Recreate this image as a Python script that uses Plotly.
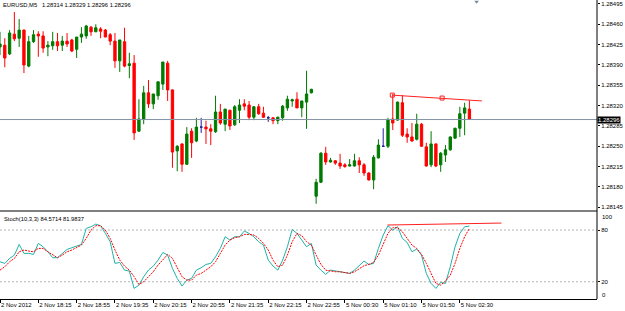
import plotly.graph_objects as go

# ---------------- data (EURUSD M5) ----------------
opens = [1.28421,1.28424,1.28409,1.28443,1.28436,1.28450,1.28388,1.28430,1.28443,1.28440,
         1.28421,1.28423,1.28430,1.28424,1.28431,1.28433,1.28417,1.28438,1.28440,1.28455,
         1.28447,1.28452,1.28450,1.28442,1.28431,1.28397,1.28430,1.28389,1.28393,1.28276,
         1.28297,1.28342,1.28323,1.28337,1.28357,1.28393,1.28347,1.28242,1.28254,1.28219,
         1.28276,1.28259,1.28283,1.28283,1.28280,1.28275,1.28309,1.28288,1.28312,1.28287,
         1.28312,1.28323,1.28321,1.28300,1.28318,1.28307,1.28299,1.28299,1.28294,1.28299,
         1.28316,1.28328,1.28331,1.28316,1.28326,1.28342,1.28164,1.28188,1.28238,1.28223,
         1.28225,1.28221,1.28218,1.28216,1.28216,1.28225,1.28218,1.28204,1.28192,1.28230,
         1.28250,1.28250,1.28297,1.28295,1.28325,1.28271,1.28266,1.28262,1.28288,1.28249,
         1.28218,1.28254,1.28218,1.28235,1.28244,1.28264,1.28281,1.28307,1.28314]
highs = [1.28447,1.28436,1.28450,1.28481,1.28469,1.28451,1.28440,1.28450,1.28448,1.28448,
         1.28431,1.28447,1.28445,1.28440,1.28445,1.28435,1.28438,1.28455,1.28459,1.28457,
         1.28460,1.28455,1.28452,1.28445,1.28445,1.28433,1.28454,1.28411,1.28407,1.28331,
         1.28354,1.28364,1.28340,1.28361,1.28395,1.28397,1.28348,1.28252,1.28255,1.28283,
         1.28281,1.28299,1.28299,1.28294,1.28288,1.28337,1.28323,1.28314,1.28313,1.28321,
         1.28331,1.28331,1.28328,1.28319,1.28323,1.28318,1.28302,1.28300,1.28301,1.28321,
         1.28337,1.28332,1.28343,1.28328,1.28380,1.28349,1.28194,1.28240,1.28249,1.28230,
         1.28226,1.28237,1.28221,1.28228,1.28237,1.28231,1.28221,1.28205,1.28235,1.28262,
         1.28281,1.28299,1.28340,1.28327,1.28338,1.28281,1.28290,1.28306,1.28290,1.28256,
         1.28276,1.28255,1.28240,1.28252,1.28267,1.28282,1.28318,1.28325,1.28329]
lows = [1.28407,1.28386,1.28407,1.28431,1.28421,1.28376,1.28386,1.28428,1.28404,1.28411,
        1.28405,1.28416,1.28414,1.28414,1.28421,1.28412,1.28402,1.28428,1.28435,1.28440,
        1.28447,1.28436,1.28438,1.28424,1.28385,1.28378,1.28386,1.28367,1.28261,1.28275,
        1.28288,1.28316,1.28314,1.28330,1.28347,1.28328,1.28213,1.28207,1.28206,1.28218,
        1.28230,1.28257,1.28273,1.28254,1.28252,1.28273,1.28287,1.28276,1.28278,1.28285,
        1.28290,1.28312,1.28295,1.28295,1.28304,1.28299,1.28292,1.28288,1.28288,1.28294,
        1.28311,1.28318,1.28316,1.28300,1.28280,1.28341,1.28151,1.28187,1.28218,1.28222,
        1.28218,1.28211,1.28213,1.28215,1.28215,1.28204,1.28199,1.28191,1.28176,1.28229,
        1.28249,1.28247,1.28278,1.28294,1.28266,1.28256,1.28258,1.28260,1.28249,1.28215,
        1.28214,1.28214,1.28206,1.28223,1.28242,1.28263,1.28266,1.28269,1.28296]
closes = [1.28426,1.28402,1.28445,1.28435,1.28450,1.28390,1.28430,1.28442,1.28440,1.28419,
          1.28424,1.28430,1.28423,1.28431,1.28426,1.28414,1.28438,1.28443,1.28457,1.28447,
          1.28454,1.28448,1.28438,1.28431,1.28397,1.28433,1.28388,1.28392,1.28273,1.28297,
          1.28342,1.28323,1.28340,1.28361,1.28395,1.28347,1.28240,1.28250,1.28219,1.28271,
          1.28256,1.28283,1.28283,1.28280,1.28276,1.28309,1.28290,1.28314,1.28285,1.28318,
          1.28321,1.28319,1.28300,1.28318,1.28306,1.28300,1.28299,1.28294,1.28300,1.28319,
          1.28331,1.28330,1.28316,1.28328,1.28340,1.28348,1.28188,1.28238,1.28223,1.28226,
          1.28221,1.28216,1.28215,1.28218,1.28225,1.28218,1.28204,1.28192,1.28231,1.28252,
          1.28250,1.28295,1.28290,1.28326,1.28269,1.28266,1.28259,1.28288,1.28250,1.28216,
          1.28254,1.28216,1.28238,1.28244,1.28266,1.28281,1.28306,1.28316,1.28296]

stoch_main = [43.2,41.3,47.1,50.9,63.3,52.9,52.9,51.7,64.5,60.6,
              54.8,47.9,47.9,52.9,57.5,59.5,61.8,63.3,81.9,83.8,
              86.9,85.0,76.1,66.4,41.3,42.4,33.5,32.4,12.3,16.1,
              25.8,33.5,38.2,45.1,54.0,50.9,35.5,23.9,15.0,21.9,
              23.9,33.5,36.3,40.1,41.3,49.0,58.7,72.2,68.4,72.2,
              72.2,78.8,76.1,72.2,66.4,62.6,45.1,38.2,33.5,45.1,
              60.6,80.7,76.1,68.4,60.6,64.5,39.3,33.5,28.5,33.5,
              32.4,31.6,30.5,29.7,33.5,39.3,44.0,40.1,41.3,58.7,
              74.2,85.0,79.9,83.8,70.3,65.6,54.8,57.9,50.9,29.7,
              18.1,12.3,19.2,18.1,37.4,60.6,76.1,83.8,84.57]
stoch_signal = [33.5,37.4,43.2,47.1,54.8,56.8,55.6,54.8,58.7,58.7,
                54.8,50.9,47.9,50.9,54.8,56.8,59.5,62.6,70.3,79.9,
                85.0,85.0,79.9,70.3,56.8,45.1,38.2,33.5,25.8,16.9,
                20.0,25.8,31.6,39.3,45.1,51.7,47.1,35.5,25.8,21.9,
                21.9,27.7,29.7,33.5,37.4,43.2,52.9,62.6,68.4,71.1,
                72.2,74.9,74.9,74.2,70.3,64.5,56.8,45.1,37.4,39.3,
                50.9,66.4,76.1,73.4,66.4,62.6,50.9,40.1,33.5,32.4,
                31.6,31.6,30.5,29.7,31.6,34.7,38.6,40.1,42.4,50.9,
                64.5,76.1,82.7,82.7,78.0,70.3,62.6,58.7,51.7,41.3,
                29.7,18.1,16.1,20.8,27.7,41.3,58.7,72.2,81.98]

time_tick_bars = [0, 8, 16, 24, 32, 40, 48, 56, 64, 72, 80, 88, 96]
time_tick_labels = ["2 Nov 2012", "2 Nov 18:15", "2 Nov 18:55", "2 Nov 19:35", "2 Nov 20:15",
                    "2 Nov 20:55", "2 Nov 21:35", "2 Nov 22:15", "2 Nov 22:55", "5 Nov 00:30",
                    "5 Nov 01:10", "5 Nov 01:50", "5 Nov 02:30"]
price_ticks = [1.28495, 1.28460, 1.28425, 1.28390, 1.28355, 1.28320,
               1.28285, 1.28250, 1.28215, 1.28180, 1.28145]
price_tick_labels = ["1.28495", "1.28460", "1.28425", "1.28390", "1.28355", "1.28320",
                     "1.28285", "1.28250", "1.28215", "1.28180", "1.28145"]
stoch_ticks = [80, 20]
stoch_levels = [80, 20]
bid_price = 1.28296
bid_label = "1.28296"

trend_price_x = [81.9, 100.6]
trend_price_y = [1.28338, 1.28328]
trend_handle_x = [81.9, 92.3]
trend_handle_y = [1.28338, 1.28333]
trend_stoch_x = [80.9, 104.7]
trend_stoch_y = [85.8, 88.1]
shift_bar = 99.5
shift_price = 1.28499

title_text = "EURUSD,M5\u00a0\u00a0 1.28314 1.28329 1.28296 1.28296"
stoch_text = "Stoch(10,3,3) 84.5714 81.9837"

# ---------------- figure ----------------
bars = list(range(len(opens)))
BULL, BEAR, DOJI = "#007a00", "#ff0000", "#20209a"

def candles(idx, color):
    return go.Candlestick(
        x=[bars[i] for i in idx], open=[opens[i] for i in idx], high=[highs[i] for i in idx],
        low=[lows[i] for i in idx], close=[closes[i] for i in idx],
        increasing=dict(line=dict(color=color, width=1), fillcolor=color),
        decreasing=dict(line=dict(color=color, width=1), fillcolor=color),
        whiskerwidth=0, xaxis="x2", yaxis="y", hoverinfo="skip", showlegend=False)

bull = [i for i in bars if closes[i] > opens[i]]
bear = [i for i in bars if closes[i] < opens[i]]
doji = [i for i in bars if closes[i] == opens[i]]

fig = go.Figure()
fig.add_trace(candles(bull, BULL))
fig.add_trace(candles(bear, BEAR))
fig.add_trace(candles(doji, DOJI))

fig.add_trace(go.Scatter(x=trend_price_x, y=trend_price_y, mode="lines",
                         line=dict(color="#ff2020", width=1), xaxis="x2", yaxis="y",
                         hoverinfo="skip", showlegend=False))
fig.add_trace(go.Scatter(x=trend_handle_x, y=trend_handle_y, mode="markers",
                         marker=dict(symbol="square-open", size=4, color="#ff2020",
                                     line=dict(width=1)),
                         xaxis="x2", yaxis="y", hoverinfo="skip", showlegend=False))
fig.add_trace(go.Scatter(x=[shift_bar], y=[shift_price], mode="markers",
                         marker=dict(symbol="triangle-down", size=4, color="#7a8aa0"),
                         cliponaxis=False, xaxis="x2", yaxis="y", hoverinfo="skip",
                         showlegend=False))

fig.add_trace(go.Scatter(x=bars, y=stoch_main, mode="lines",
                         line=dict(color="#20b2aa", width=1), xaxis="x", yaxis="y2",
                         hoverinfo="skip", showlegend=False))
fig.add_trace(go.Scatter(x=bars, y=stoch_signal, mode="lines",
                         line=dict(color="#ff0000", width=1, dash="2px,1px"), xaxis="x", yaxis="y2",
                         hoverinfo="skip", showlegend=False))
fig.add_trace(go.Scatter(x=trend_stoch_x, y=trend_stoch_y, mode="lines",
                         line=dict(color="#ff2020", width=1), xaxis="x", yaxis="y2",
                         hoverinfo="skip", showlegend=False))

PLOT_H = 299.0
def py(px):
    return (PLOT_H - px) / PLOT_H

xr = [0, 597 / 4.79]
FONT = "Liberation Sans, Arial, sans-serif"

fig.update_layout(
    width=625, height=311,
    margin=dict(l=0, r=28, t=0, b=12, pad=0, autoexpand=False),
    paper_bgcolor="white", plot_bgcolor="white",
    font=dict(family=FONT, size=6, color="black"),
    showlegend=False,
    xaxis=dict(domain=[0, 1], anchor="y2", range=xr, tickmode="array",
               tickvals=time_tick_bars, ticktext=time_tick_labels, tickangle=0,
               ticks="outside", ticklen=3, tickcolor="black", tickwidth=1,
               ticklabelposition="outside right", tickfont=dict(size=6),
               showline=True, linecolor="black", linewidth=1, automargin=False,
               showgrid=False, zeroline=False, rangeslider=dict(visible=False)),
    xaxis2=dict(domain=[0, 1], anchor="y", matches="x", showticklabels=False,
                ticks="", showgrid=False, zeroline=False, showline=False, automargin=False,
                rangeslider=dict(visible=False)),
    yaxis=dict(domain=[py(210.5), 1], anchor="x2", side="right",
               range=[1.281394, 1.285018], tickmode="array",
               tickvals=price_ticks, ticktext=price_tick_labels,
               ticks="outside", ticklen=2, tickcolor="black", automargin=False,
               tickfont=dict(size=6), showgrid=False, zeroline=False,
               showline=False),
    yaxis2=dict(domain=[0, py(211.5)], anchor="x", side="right",
                range=[0, 101.5], tickmode="array", tickvals=stoch_ticks,
                ticktext=[str(v) for v in stoch_ticks], automargin=False,
                ticks="outside", ticklen=2, tickcolor="black",
                tickfont=dict(size=6), showgrid=False, zeroline=False,
                showline=False),
)

shapes = [
    dict(type="line", xref="paper", yref="y", x0=0, x1=1, y0=bid_price, y1=bid_price,
         line=dict(color="#8393a6", width=1)),
    dict(type="line", xref="paper", yref="paper", x0=0, x1=1, y0=py(211), y1=py(211),
         line=dict(color="black", width=1)),
    dict(type="line", xref="paper", yref="paper", x0=1, x1=1, y0=0, y1=1,
         line=dict(color="black", width=1)),
]
for lv in stoch_levels:
    shapes.append(dict(type="line", xref="paper", yref="y2", x0=0, x1=1, y0=lv, y1=lv,
                       line=dict(color="#b4b4b4", width=1, dash="2px,2px"), layer="below"))
fig.update_layout(shapes=shapes)

annotations = [
    dict(text=title_text, xref="paper", yref="paper", x=0, y=1, xanchor="left",
         yanchor="top", xshift=1, showarrow=False, font=dict(size=5.8, color="black")),
    dict(text=stoch_text, xref="paper", yref="paper", x=0, y=py(214), xanchor="left",
         yanchor="top", xshift=2, showarrow=False, font=dict(size=5.8, color="black")),
    dict(text=bid_label, xref="paper", yref="y", x=1, y=bid_price, xanchor="left",
         yanchor="middle", xshift=0, showarrow=False, bgcolor="black", borderpad=0,
         font=dict(size=6, color="white")),
    dict(text="100", xref="paper", yref="y2", x=1, y=100, xanchor="left",
         yanchor="middle", xshift=3, yshift=-4, showarrow=False, font=dict(size=6)),
    dict(text="0", xref="paper", yref="y2", x=1, y=0, xanchor="left",
         yanchor="middle", xshift=3, yshift=4, showarrow=False, font=dict(size=6)),
]
fig.update_layout(annotations=annotations)

fig.write_html("out.html")
